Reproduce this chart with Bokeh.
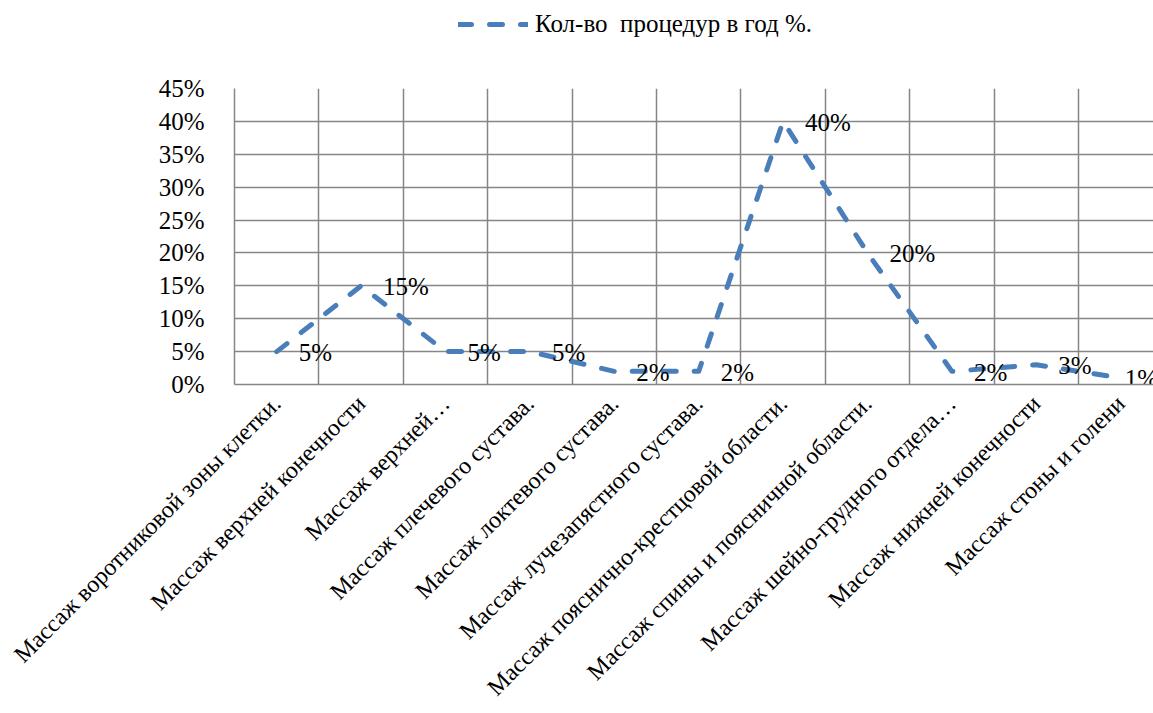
from math import pi

from bokeh.embed import file_html
from bokeh.layouts import column
from bokeh.models import (ColumnDataSource, FixedTicker, Legend, LegendItem,
                          Range1d)
from bokeh.plotting import figure
from bokeh.resources import INLINE

categories = [
    "Массаж воротниковой зоны клетки.",
    "Массаж верхней конечности",
    "Массаж верхней…",
    "Массаж плечевого сустава.",
    "Массаж локтевого сустава.",
    "Массаж лучезапястного сустава.",
    "Массаж пояснично-крестцовой области.",
    "Массаж спины и поясничной области.",
    "Массаж шейно-грудного отдела…",
    "Массаж нижней конечности",
    "Массаж стоны и голени",
]
values = [5, 15, 5, 5, 2, 2, 40, 20, 2, 3, 1]
y_ticks = [0, 5, 10, 15, 20, 25, 30, 35, 40, 45]
series_name = "Кол-во  процедур в год %."

FONT = "Liberation Serif"
FONT_SIZE = "25px"
CAT_FONT_SIZE = "24px"
BLUE = "#4a7ebb"
GRID = "#868686"
LINE_STYLE = dict(line_color=BLUE, line_width=5, line_dash="13 18",
                  line_cap="round", line_join="round")

n = len(categories)
centers = [i + 0.5 for i in range(n)]

W = 1153
HEAD_H = 68          # strip holding the legend
H = 713 - HEAD_H     # main chart
cat_w = 84.4
frame_left = 234
frame_top = 20
frame_h = 296

# value labels sit to the right of each point; the last one is nudged
# left so that it stays inside the canvas
label_dx = [22] * n
label_dx[-1] = 4

source = ColumnDataSource(dict(
    x=centers,
    y=values,
    label=[f"{v}%" for v in values],
    dx=label_dx,
))

# ---- legend strip -------------------------------------------------------
head = figure(
    width=W, height=HEAD_H, output_backend="svg", toolbar_location=None,
    x_range=Range1d(0, 1), y_range=Range1d(0, 1),
    min_border=0,
)
head.axis.visible = False
head.grid.visible = False
head.outline_line_color = None
# the strip's own range never shows this segment; it only feeds the legend
legend_line = head.line(x=[-2, -1], y=[-2, -2], **LINE_STYLE)
legend = Legend(
    items=[LegendItem(label=series_name, renderers=[legend_line])],
    location=(458 - frame_left, 30),
    orientation="horizontal",
    border_line_color=None, background_fill_alpha=0,
    label_text_font=FONT, label_text_font_size=FONT_SIZE,
    label_text_color="black",
    glyph_width=70, glyph_height=20, label_standoff=7,
    padding=0, margin=0, spacing=0,
)
head.add_layout(legend, "center")

# ---- main chart ---------------------------------------------------------
p = figure(
    width=W, height=H,
    output_backend="svg", toolbar_location=None,
    x_range=Range1d(0, (W - frame_left) / cat_w),
    y_range=Range1d(0, 45),
    min_border_left=frame_left, min_border_right=0,
    min_border_top=frame_top, min_border_bottom=H - frame_top - frame_h,
)
p.outline_line_color = None
p.background_fill_color = "white"
p.border_fill_color = "white"

# category labels sit under each category centre, rotated 45 degrees
p.xaxis.ticker = FixedTicker(ticks=centers)
p.xaxis.major_label_overrides = {c: lab for c, lab in zip(centers, categories)}
p.xaxis.major_label_orientation = pi / 4
p.xaxis.major_tick_line_color = None
p.xaxis.minor_tick_line_color = None
p.xaxis.axis_line_color = GRID
p.xaxis.axis_line_width = 1.5
p.xaxis.major_label_text_font = FONT
p.xaxis.major_label_text_font_size = CAT_FONT_SIZE
p.xaxis.major_label_text_color = "black"
p.xaxis.major_label_standoff = 9

p.yaxis.ticker = FixedTicker(ticks=y_ticks)
p.yaxis.major_label_overrides = {t: f"{t}%" for t in y_ticks}
p.yaxis.major_tick_line_color = None
p.yaxis.minor_tick_line_color = None
p.yaxis.axis_line_color = GRID
p.yaxis.axis_line_width = 1.5
p.yaxis.major_label_text_font = FONT
p.yaxis.major_label_text_font_size = FONT_SIZE
p.yaxis.major_label_text_color = "black"
p.yaxis.major_label_standoff = 24

# vertical grid lines mark the category boundaries
p.xgrid.ticker = FixedTicker(ticks=list(range(n + 1)))
p.xgrid.grid_line_color = GRID
p.xgrid.grid_line_width = 1.5
p.ygrid.grid_line_color = GRID
p.ygrid.grid_line_width = 1.5

p.line("x", "y", source=source, **LINE_STYLE)

p.text("x", "y", text="label", source=source, x_offset="dx", y_offset=1,
       text_baseline="middle", text_align="left", text_color="black",
       text_font=FONT, text_font_size=FONT_SIZE)

layout = column(head, p, spacing=0)
open("out.html", "w").write(file_html(layout, INLINE))
